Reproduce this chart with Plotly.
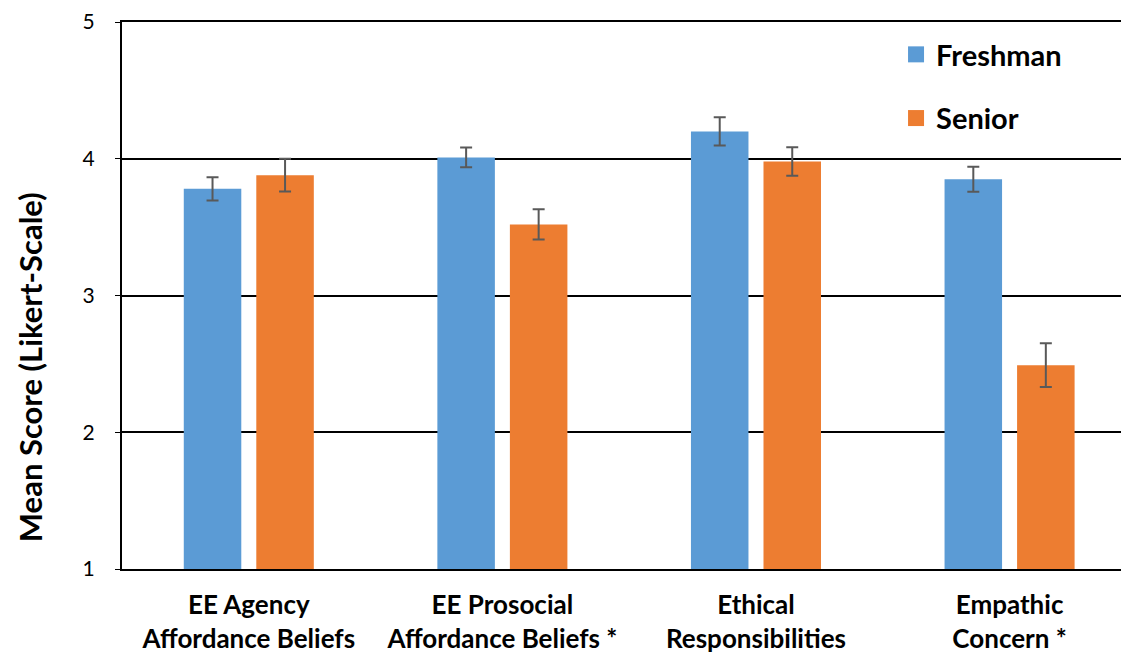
import plotly.graph_objects as go

categories = ["EE Agency<br>Affordance Beliefs", "EE Prosocial<br>Affordance Beliefs *",
              "Ethical<br>Responsibilities", "Empathic<br>Concern *"]
freshman = [3.78, 4.01, 4.20, 3.85]
freshman_err = [0.085, 0.072, 0.104, 0.092]
senior = [3.88, 3.52, 3.98, 2.49]
senior_err = [0.12, 0.11, 0.105, 0.16]
y_ticks = [1, 2, 3, 4, 5]
y_title = "Mean Score (Likert-Scale)"

FONT = "Lato"
BLUE = "#5B9BD5"
ORANGE = "#ED7D31"
err_style = dict(type="data", thickness=2, width=6, color="#595959")

fig = go.Figure()
fig.add_trace(go.Bar(name="Freshman", x=categories, y=freshman, showlegend=False,
                     marker=dict(color=BLUE, line=dict(width=0)),
                     error_y=dict(array=freshman_err, **err_style)))
fig.add_trace(go.Bar(name="Senior", x=categories, y=senior, showlegend=False,
                     marker=dict(color=ORANGE, line=dict(width=0)),
                     error_y=dict(array=senior_err, **err_style)))
# legend entries with larger square swatches
for name, color, grp in [("Freshman", BLUE, "f"), ("Senior", ORANGE, "s")]:
    fig.add_trace(go.Scatter(name=name, x=[None], y=[None], mode="markers", legendgroup=grp,
                             marker=dict(symbol="square", size=16, color=color),
                             hoverinfo="skip"))

fig.add_annotation(text=y_title, xref="paper", yref="paper", x=-0.0906, y=0.369,
                   xanchor="center", yanchor="middle", textangle=-90, showarrow=False,
                   font=dict(family=FONT, size=31, color="black", weight="bold"))

fig.update_layout(
    width=1129, height=657,
    margin=dict(l=114, r=0, t=11, b=96),
    paper_bgcolor="white", plot_bgcolor="white",
    barmode="group", bargap=0.428, bargroupgap=0.207,
    font=dict(family=FONT, color="black"),
    legend=dict(x=0.7626, y=0.9872, xanchor="left", yanchor="top",
                font=dict(family=FONT, size=29, color="black", weight="bold"),
                tracegroupgap=23, itemsizing="trace", bgcolor="rgba(0,0,0,0)"),
    xaxis=dict(range=[-0.5, 3.5025], showline=True, linecolor="black", linewidth=2,
               mirror=True, showgrid=False, ticklabelstandoff=12,
               tickfont=dict(family=FONT, size=26, color="black", weight="bold")),
    yaxis=dict(range=[1, 5], tickvals=y_ticks, showgrid=True, gridcolor="black",
               gridwidth=1.7, showline=True, linecolor="black", linewidth=2,
               ticks="outside", ticklen=5, tickcolor="black", ticklabelstandoff=16,
               ticklabeloverflow="allow", zeroline=False,
               tickfont=dict(family=FONT, size=21, color="black")),
)

fig.write_html("out.html")
